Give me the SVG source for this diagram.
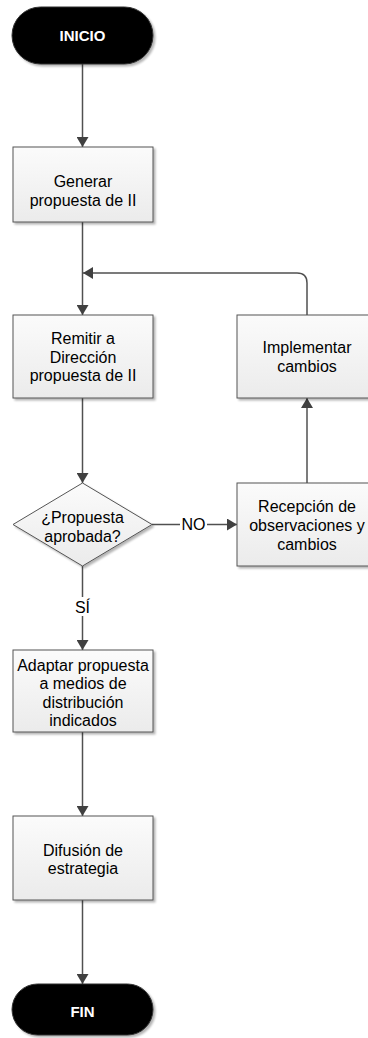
<svg xmlns="http://www.w3.org/2000/svg" width="368" height="1038" viewBox="0 0 368 1038">
<defs>
<linearGradient id="g" x1="0" y1="0" x2="0" y2="1">
<stop offset="0" stop-color="#fbfbfb"/>
<stop offset="1" stop-color="#ebebeb"/>
</linearGradient>
<marker id="ah" viewBox="0 0 10 12" refX="10" refY="6" markerWidth="10" markerHeight="12" markerUnits="userSpaceOnUse" orient="auto">
<path d="M0,0 L10,6 L0,12 Z" fill="#404040"/>
</marker>
<filter id="sh" x="-10%" y="-10%" width="130%" height="130%">
<feGaussianBlur in="SourceAlpha" stdDeviation="1.2"/>
<feOffset dx="2" dy="2" result="b"/>
<feComponentTransfer><feFuncA type="linear" slope="0.3"/></feComponentTransfer>
<feMerge><feMergeNode/><feMergeNode in="SourceGraphic"/></feMerge>
</filter>
</defs>
<style>
.box{fill:url(#g);stroke:#555;stroke-width:1;filter:url(#sh)}
.term{fill:#000;stroke:#333;stroke-width:1;filter:url(#sh)}
.t{font-family:"Liberation Sans",Arial,sans-serif;font-size:16px;fill:#000;text-anchor:middle}
.tw{font-family:"Liberation Sans",Arial,sans-serif;font-size:15px;font-weight:bold;fill:#fff;text-anchor:middle}
.ca{fill:none;stroke:#505050;stroke-width:1.5;marker-end:url(#ah)}
</style>
<g id="connectors">
<path class="ca" d="M82.5,64 V147"/>
<path class="ca" d="M82.5,222 V315"/>
<path class="ca" d="M307,315 V283 Q307,273 297,273 H83"/>
<path class="ca" d="M82.5,398 V483"/>
<path class="ca" d="M152,524.5 H237"/>
<path class="ca" d="M307,483 V398"/>
<path class="ca" d="M82.5,566 V650"/>
<path class="ca" d="M82.5,732 V816"/>
<path class="ca" d="M82.5,900 V984"/>
<rect x="180" y="515" width="27" height="18" fill="#fff"/>
<text class="t" x="193.5" y="529.5">NO</text>
<rect x="72" y="597" width="21" height="19" fill="#fff"/>
<text class="t" x="82.5" y="613">SÍ</text>
</g>
<g id="inicio">
<rect class="term" x="12" y="7" width="141" height="57" rx="28.5"/>
<text class="tw" x="82.5" y="41">INICIO</text>
</g>
<g id="generar">
<rect class="box" x="13" y="147" width="140" height="75"/>
<text class="t" x="83" y="187">Generar</text>
<text class="t" x="83" y="205.5">propuesta de II</text>
</g>
<g id="remitir">
<rect class="box" x="13" y="315" width="140" height="83"/>
<text class="t" x="83" y="344">Remitir a</text>
<text class="t" x="83" y="362.5">Dirección</text>
<text class="t" x="83" y="381">propuesta de II</text>
</g>
<g id="implementar">
<rect class="box" x="237" y="315" width="140" height="83"/>
<text class="t" x="307" y="353">Implementar</text>
<text class="t" x="307" y="372">cambios</text>
</g>
<g id="decision">
<path d="M13,524.5 L82.5,483 L152,524.5 L82.5,566 Z" fill="url(#g)" stroke="#555" stroke-width="1" filter="url(#sh)"/>
<text class="t" x="82.5" y="523">¿Propuesta</text>
<text class="t" x="82.5" y="542">aprobada?</text>
</g>
<g id="recepcion">
<rect class="box" x="237" y="483" width="140" height="83"/>
<text class="t" x="307" y="512">Recepción de</text>
<text class="t" x="307" y="531">observaciones y</text>
<text class="t" x="307" y="550">cambios</text>
</g>
<g id="adaptar">
<rect class="box" x="13" y="650" width="140" height="82"/>
<text class="t" x="83" y="670.5">Adaptar propuesta</text>
<text class="t" x="83" y="689">a medios de</text>
<text class="t" x="83" y="707.5">distribución</text>
<text class="t" x="83" y="726">indicados</text>
</g>
<g id="difusion">
<rect class="box" x="13" y="816" width="140" height="84"/>
<text class="t" x="83" y="855.5">Difusión de</text>
<text class="t" x="83" y="874">estrategia</text>
</g>
<g id="fin">
<rect class="term" x="12" y="984" width="141" height="51" rx="25.5"/>
<text class="tw" x="82.5" y="1017">FIN</text>
</g>
</svg>
